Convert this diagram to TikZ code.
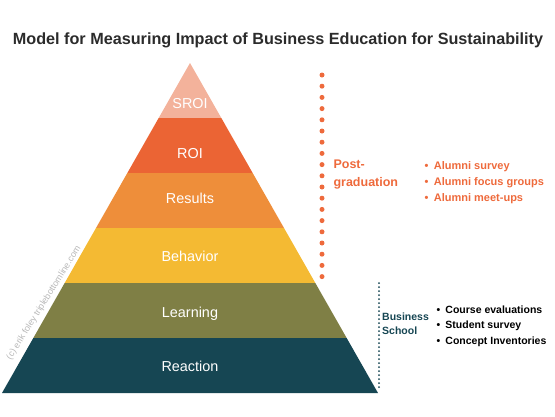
\documentclass[tikz,border=0pt]{standalone}
\usepackage{fontspec}
\setmainfont{Liberation Sans}
\usepackage{xcolor}
\usetikzlibrary{calc, positioning}

\definecolor{SroiPink}{HTML}{F3B29B}
\definecolor{RoiRed}{HTML}{EB6434}
\definecolor{ResultOrange}{HTML}{EE8E3A}
\definecolor{BehaviorGold}{HTML}{F4BA33}
\definecolor{LearnOlive}{HTML}{7F7F45}
\definecolor{ReactTeal}{HTML}{164653}
\definecolor{TitleGray}{HTML}{2B2B2B}
\definecolor{PostOrange}{HTML}{EE6A3C}

\begin{document}
\begin{tikzpicture}[
  x=1pt, y=-1pt,
  band/.style={anchor=base, text=white, font=\fontsize{14.4}{16}\selectfont},
  phase/.style={anchor=north west, align=left, font=\bfseries\fontsize{12.5}{18}\selectfont},
  tool/.style={anchor=north west, align=left, font=\bfseries\fontsize{11}{16}\selectfont},
  postdots/.style={PostOrange, line width=5pt, line cap=round, dash pattern=on 0pt off 11.2pt},
  schooldots/.style={ReactTeal, line width=2pt, line cap=round, dash pattern=on 0pt off 4pt},
]
\useasboundingbox (0,0) rectangle (555,416);

% Title
\node[anchor=base, text=TitleGray, font=\bfseries\fontsize{16.2}{18}\selectfont] (title) at (278,44)
  {Model for Measuring Impact of Business Education for Sustainability};

% Pyramid corners
\coordinate (apex) at (190,63);
\coordinate (bl) at (2,393);
\coordinate (br) at (378,393);
\foreach \i in {1,...,5} {
  \coordinate (l\i) at ($(apex)!\i/6!(bl)$);
  \coordinate (r\i) at ($(apex)!\i/6!(br)$);
}

% Bands
\fill[SroiPink] (apex) -- (l1) -- (r1) -- cycle;
\fill[RoiRed] (l1) -- (l2) -- (r2) -- (r1) -- cycle;
\fill[ResultOrange] (l2) -- (l3) -- (r3) -- (r2) -- cycle;
\fill[BehaviorGold] (l3) -- (l4) -- (r4) -- (r3) -- cycle;
\fill[LearnOlive] (l4) -- (l5) -- (r5) -- (r4) -- cycle;
\fill[ReactTeal] (l5) -- (bl) -- (br) -- (r5) -- cycle;

% Band labels
\node[band] (sroi) at (190,108) {SROI};
\node[band] (roi) at (190,158) {ROI};
\node[band] (results) at (190,203) {Results};
\node[band] (behavior) at (190,261) {Behavior};
\node[band] (learning) at (190,317) {Learning};
\node[band] (reaction) at (190,371) {Reaction};

% Credit
\node[rotate=58, text=black!28, font=\fontsize{9}{10}\selectfont] (credit) at (44,303)
  {(c) erik foley triplebottomline.com};

% Post-graduation
\coordinate (posttop) at (322,75);
\coordinate (postbot) at (322,280);
\draw[postdots] (posttop) -- (postbot);
\node[phase, text=PostOrange] (post) at (330,156) {Post-\\graduation};
\node[tool, text=PostOrange] (postlist) at (421,158)
  {\textbullet\enspace Alumni survey\\\textbullet\enspace Alumni focus groups\\\textbullet\enspace Alumni meet-ups};

% Business school
\coordinate (schooltop) at (379,283);
\coordinate (schoolbot) at (379,388);
\draw[schooldots] (schooltop) -- (schoolbot);
\node[tool, text=ReactTeal, font=\bfseries\fontsize{10.5}{14}\selectfont, inner sep=1pt] (school) at (381,312) {Business\\School};
\node[tool, text=black, font=\bfseries\fontsize{10.5}{15.5}\selectfont] (schoollist) at (433,302)
  {\textbullet\enspace Course evaluations\\\textbullet\enspace Student survey\\\textbullet\enspace Concept Inventories};

\end{tikzpicture}
\end{document}
